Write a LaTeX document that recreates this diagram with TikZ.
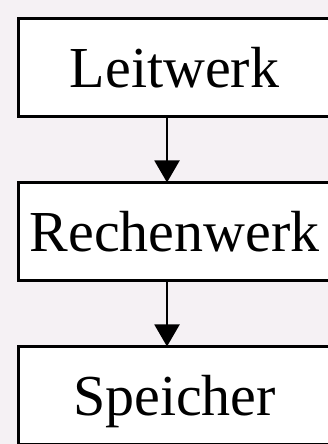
\documentclass[tikz,border=0pt]{standalone}
\usepackage{fontspec}
\setmainfont{Liberation Serif}
\usetikzlibrary{arrows.meta, positioning}
\definecolor{paper}{RGB}{245,241,244}

\begin{document}
\begin{tikzpicture}[x=1pt,y=1pt,
  item/.style={rectangle,draw,line width=2.5pt,fill=white,outer sep=0pt,
    minimum width=312pt,minimum height=98pt,text height=40pt,text depth=0pt,
    font=\fontsize{58}{60}\selectfont}]
 \useasboundingbox[fill=paper] (0,0) rectangle (328,444);
 \clip (0,0) rectangle (328,444);

 \node[item] (lw) at (174.5,376.5) {Leitwerk};
 \node[item, below=66pt of lw] (rw) {Rechenwerk};
 \node[item, below=66pt of rw] (sp) {Speicher};

 \draw[line width=2pt,-{Triangle[length=22pt,width=25pt]}]
   ([xshift=-7.5pt]lw.south) -- ([xshift=-7.5pt]rw.north);
 \draw[line width=2pt,-{Triangle[length=22pt,width=25pt]}]
   ([xshift=-7.5pt]rw.south) -- ([xshift=-7.5pt]sp.north);
\end{tikzpicture}
\end{document}
